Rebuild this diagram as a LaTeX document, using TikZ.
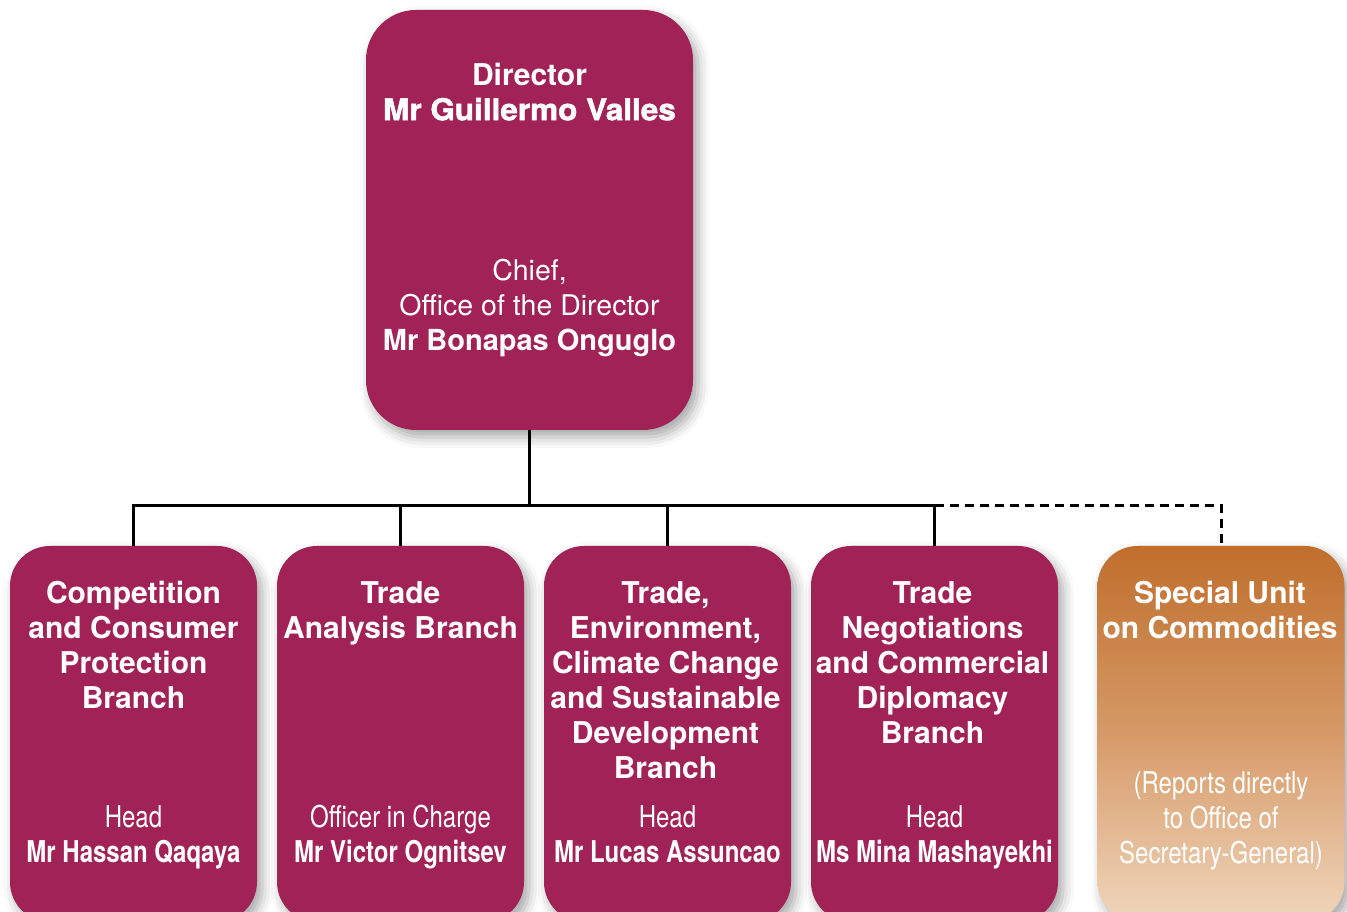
\documentclass[tikz,border=0pt]{standalone}
\usepackage{fontspec}
\setmainfont{TeX Gyre Heros}
\newfontfamily\cnd[FakeStretch=0.8]{TeX Gyre Heros}
\newfontfamily\heavy[FakeStretch=1.05,FakeBold=1.6]{TeX Gyre Heros}
\usetikzlibrary{shadows.blur}
\definecolor{plum}{RGB}{160,34,86}
\definecolor{ochreTop}{RGB}{192,110,44}
\definecolor{ochreMid}{RGB}{214,154,104}
\definecolor{ochreBot}{RGB}{240,214,188}
\begin{document}
\begin{tikzpicture}[x=1pt,y=1pt,
  boxshadow/.style={blur shadow={shadow xshift=5pt, shadow yshift=-7pt,
      shadow blur radius=11pt, shadow opacity=35}},
  unitbox/.style={rectangle, rounded corners=40pt, minimum width=247pt,
      minimum height=376pt, inner sep=0pt, boxshadow},
  plumbox/.style={unitbox, fill=plum},
  ochrebox/.style={unitbox, top color=ochreTop, bottom color=ochreBot, middle color=ochreMid},
  headbox/.style={rectangle, rounded corners=50pt, minimum width=327pt,
      minimum height=420pt, inner sep=0pt, fill=plum, boxshadow},
  txt/.style={text=white, align=center, inner sep=0pt, anchor=north},
  ttl/.style={txt, font=\fontsize{30}{35}\selectfont\bfseries},
  lite/.style={txt, font=\fontsize{28.5}{35}\selectfont},
  nm/.style={txt, font=\cnd\fontsize{30}{35}\selectfont},
  wire/.style={line width=3pt, black},
  dashwire/.style={wire, dash pattern=on 9pt off 6pt}]
\useasboundingbox (0,0) rectangle (1347,912);

% Director's box
\node[headbox] (top) at (529.5,692) {};
\node[ttl] (dirT) at (529.5,851.5) {\strut Director\\{\heavy\bfseries Mr Guillermo Valles}};
\node[lite] (chiefT) at (529.5,656.5) {\strut Chief,\\Office of the Director\\{\bfseries\fontsize{29}{35}\selectfont Mr Bonapas Onguglo}};

% Branch boxes
\node[plumbox] (b1) at (133.5,178) {};
\node[plumbox] (b2) at (400.5,178) {};
\node[plumbox] (b3) at (667.5,178) {};
\node[plumbox] (b4) at (934.5,178) {};
\node[ochrebox] (b5) at (1221,178) {};

\node[ttl] (b1T) at (133.5,333.5) {\strut Competition\\and Consumer\\Protection\\Branch};
\node[ttl] (b2T) at (400.5,333.5) {\strut Trade\\Analysis Branch};
\node[ttl] (b3T) at (665.5,333.5) {\strut Trade,\\Environment,\\Climate Change\\and Sustainable\\Development\\Branch};
\node[ttl] (b4T) at (932.5,333.5) {\strut Trade\\Negotiations\\and Commercial\\Diplomacy\\Branch};
\node[ttl] (b5T) at (1220,333.5) {\strut Special Unit\\on Commodities};

\node[nm] (b1N) at (133.5,109.5) {\strut Head\\{\bfseries Mr Hassan Qaqaya}};
\node[nm] (b2N) at (400.5,109.5) {\strut Officer in Charge\\{\bfseries Mr Victor Ognitsev}};
\node[nm] (b3N) at (667.5,109.5) {\strut Head\\{\bfseries Mr Lucas Assuncao}};
\node[nm] (b4N) at (934.5,109.5) {\strut Head\\{\bfseries Ms Mina Mashayekhi}};
\node[nm] (b5N) at (1221,143.5) {\strut (Reports directly\\to Office of\\Secretary-General)};

% Reporting lines
\coordinate (bus) at (0,406);
\draw[wire] (top.south) -- (top.south |- bus);
\draw[wire] (b1.north) |- (b4.north |- bus) -- (b4.north);
\draw[wire] (b2.north |- bus) -- (b2.north);
\draw[wire] (b3.north |- bus) -- (b3.north);
\draw[dashwire] (b4.north |- bus) -| (b5.north);
\end{tikzpicture}
\end{document}
